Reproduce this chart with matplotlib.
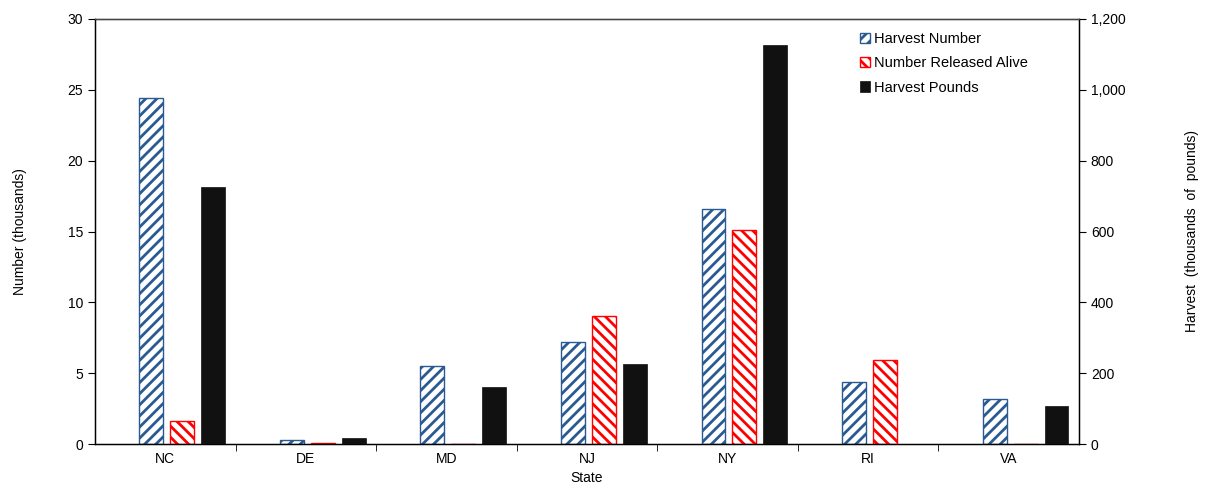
import matplotlib
matplotlib.use("Agg")
from matplotlib import pyplot as plt
from matplotlib.ticker import FuncFormatter
import numpy as np

plt.rcParams['font.family'] = ['Liberation Sans', 'DejaVu Sans']
plt.rcParams['hatch.linewidth'] = 2.0

states = ['NC', 'DE', 'MD', 'NJ', 'NY', 'RI', 'VA']
harvest_number = [24.4, 0.3, 5.5, 7.2, 16.6, 4.4, 3.15]
released_alive = [1.6, 0.1, 0, 9.05, 15.1, 5.95, 0]
harvest_pounds = [726, 17, 160, 226, 1128, 0, 108]

blue = '#2A5A92'
red = '#FF0000'

fig = plt.figure(figsize=(12.05, 5), dpi=100)
ax = fig.add_axes([95 / 1205, 56 / 500, 984 / 1205, 425 / 500])
ax2 = ax.twinx()

x = np.arange(len(states))
w = 0.17

ax.bar(x - 0.10, harvest_number, w, color='white', edgecolor=blue, hatch='///',
       linewidth=1.0, label='Harvest Number')
ax.bar(x + 0.12, released_alive, w, color='white', edgecolor=red, hatch='\\\\\\',
       linewidth=1.0, label='Number Released Alive')
ax2.bar(x + 0.34, harvest_pounds, w, color='#111111', edgecolor='#111111',
        linewidth=0.5, label='Harvest Pounds')

ax.set_xlim(-0.5, len(states) - 0.5)
ax.set_ylim(0, 30)
ax2.set_ylim(0, 1200)
ax.set_yticks(range(0, 31, 5))
ax2.set_yticks(range(0, 1201, 200))
ax2.yaxis.set_major_formatter(FuncFormatter(lambda v, p: f'{int(v):,}'))

ax.set_xticks(x)
ax.set_xticklabels(states)
ax.set_xticks(np.arange(0.5, len(states) - 0.5, 1), minor=True)
ax.tick_params(axis='x', which='major', length=0, labelsize=10, pad=6)
ax.tick_params(axis='x', which='minor', length=5, direction='out')
ax.tick_params(axis='y', labelsize=10, length=5, direction='out')
ax2.tick_params(axis='y', labelsize=10, length=5, direction='out')

for s in ['top', 'right', 'left', 'bottom']:
    ax.spines[s].set_linewidth(1.0)
ax2.spines['top'].set_color('#444444')

ax.set_xlabel('State', fontsize=10, labelpad=3)
ax.set_ylabel('Number (thousands)', fontsize=10, labelpad=29)
ax2.set_ylabel('Harvest  (thousands  of  pounds)', fontsize=10, labelpad=43)

h1, l1 = ax.get_legend_handles_labels()
h2, l2 = ax2.get_legend_handles_labels()
leg = ax2.legend(h1 + h2, l1 + l2, loc='upper left', bbox_to_anchor=(0.764, 1.0),
                 frameon=False, fontsize=10.5, handlelength=0.7, handleheight=0.7,
                 handletextpad=0.3, labelspacing=0.7)

plt.savefig('out.png', dpi=100)
